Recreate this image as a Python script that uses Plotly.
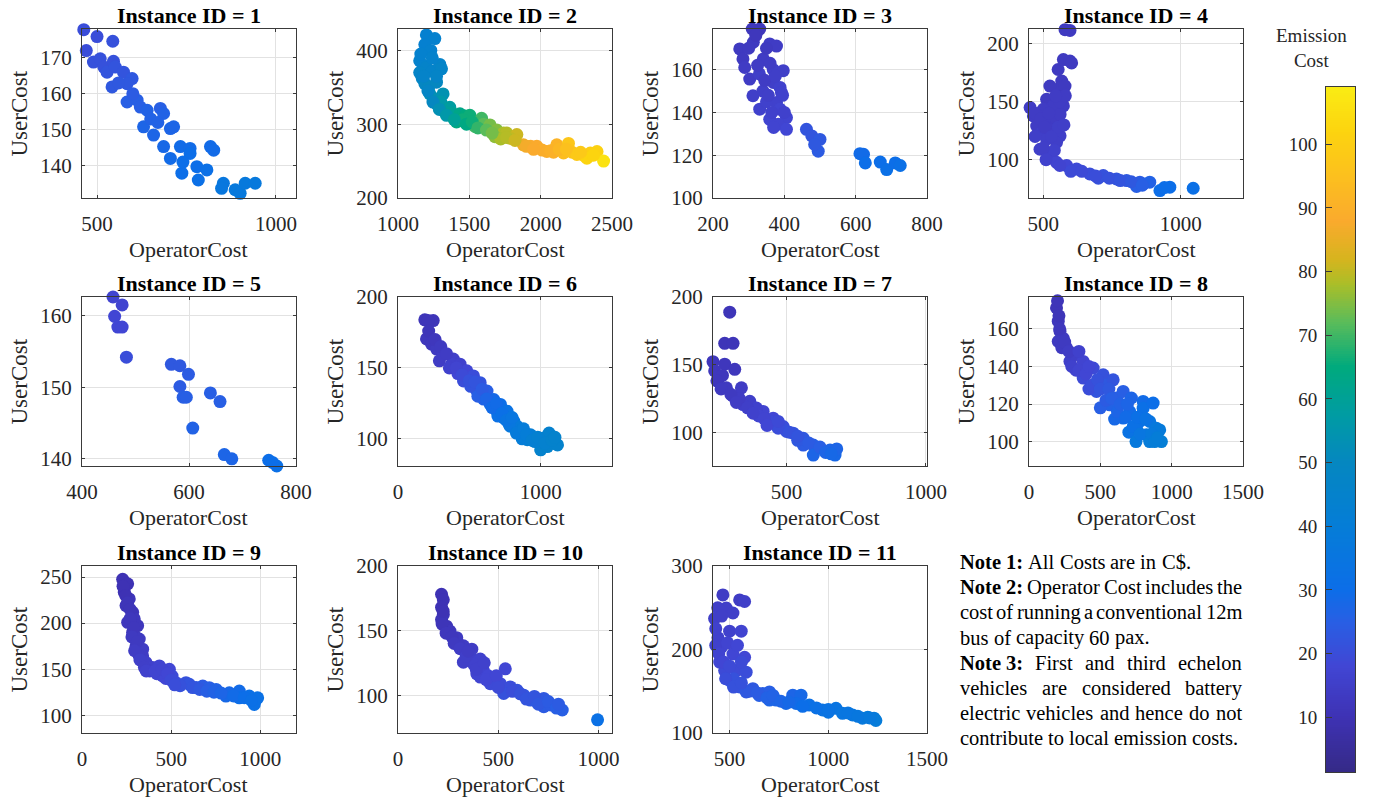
import plotly.graph_objects as go
import numpy as np

W, H = 1383, 802
FONT = "Liberation Serif, Times New Roman, serif"

# ---------------- data (OperatorCost, UserCost, Emission Cost) ----------------
op1 = [463, 500, 544, 470, 490, 509, 519, 528, 546, 551, 574, 598, 542, 584, 584, 612, 621, 640, 677, 686, 630, 658,
       705, 714, 686, 733, 760, 817, 826, 705, 737, 760, 779, 807, 783, 853, 848, 886, 900, 914, 942, 1044, 600, 650,
       560, 740, 670]
user1 = [177.8, 175.9, 174.6, 172.0, 168.8, 169.7, 167.4, 166.0, 169.0, 167.4, 166.0, 164.2, 161.9, 162.8, 157.7, 158.2,
         156.3, 155.4, 155.9, 154.5, 150.8, 148.5, 150.3, 150.8, 145.3, 145.3, 144.8, 145.3, 144.3, 142.0, 137.9, 143.4,
         139.7, 138.8, 136.0, 135.1, 133.7, 133.3, 132.3, 135.1, 135.1, 130.8, 160.0, 153.0, 163.0, 141.0, 152.0]
emis1 = [20, 20, 21, 20, 21, 21, 21, 22, 21, 22, 22, 23, 23, 23, 25, 25, 25, 26, 25, 26, 27, 27, 27, 27, 28, 29, 29,
         29, 29, 29, 30, 30, 30, 31, 31, 36, 36, 37, 37, 37, 37, 45, 24, 26, 23, 30, 26]

op2 = [1199, 1258, 1188, 1230, 1152, 1175, 1199, 1240, 1293, 1305, 1152, 1170, 1188, 1215, 1270, 1223, 1250, 1316,
       1270, 1300, 1363, 1328, 1380, 1434, 1470, 1504, 1410, 1455, 1586, 1539, 1600, 1645, 1692, 1740, 1762, 1833,
       1785, 1680, 1720, 1879, 1930, 1973, 2010, 2043, 2070, 2113, 2195, 2160, 2220, 2254, 2300, 2348, 2395, 2324, 2441,
       1160, 1180, 1210, 1245, 1290, 1340, 1395, 1480, 1520, 1560, 1620, 1660, 1760, 1820, 1900, 1950, 2090, 2130,
       2180, 2280, 2370, 1240, 1270]
user2 = [421, 416, 408, 400, 386, 380, 377, 372, 381, 375, 370, 362, 355, 350, 357, 341, 335, 341, 328, 330, 323, 317,
         315, 314, 311, 312, 303, 306, 308, 297, 300, 299, 292, 288, 288, 286, 281, 283, 280, 272, 270, 270, 265, 263,
         264, 272, 274, 261, 262, 259, 258, 261, 263, 254, 250,
         395, 365, 345, 330, 320, 312, 306, 300, 303, 295, 292, 288, 282, 278, 270, 266, 262, 266, 266, 262, 258, 390,
         365]
emis2 = [43, 44, 43, 44, 45, 45, 46, 46, 46, 47, 47, 48, 49, 50, 50, 52, 53, 54, 55, 56, 58, 59, 60, 63, 65, 66, 64,
         66, 70, 70, 72, 74, 75, 78, 79, 81, 80, 76, 78, 86, 88, 88, 89, 89, 90, 91, 97, 94, 96, 98, 99, 100, 101,
         102, 106,
         44, 46, 48, 50, 53, 56, 60, 64, 66, 69, 72, 74, 79, 81, 87, 88, 90, 92, 95, 98, 102, 45, 47]

op3 = [289, 331, 310, 275, 313, 359, 378, 284, 341, 289, 369, 397, 303, 330, 369, 388, 392, 312, 340, 378, 331, 350,
       388, 406, 359, 383, 406, 462, 477, 500, 495, 485, 612, 622, 627, 669, 687, 711, 725,
       320, 300, 350, 325, 360, 345, 375, 355, 395, 365, 400, 370]
user3 = [179.4, 179.0, 179.0, 169.7, 172.8, 172.0, 171.0, 165.0, 165.0, 161.0, 160.0, 159.5, 155.6, 158.0, 154.0,
         151.7, 149.3, 147.8, 150.0, 144.6, 141.5, 145.0, 141.5, 137.6, 136.8, 134.5, 132.1, 132.1, 129.0, 127.4,
         121.9, 125.0, 120.7, 120.4, 116.4, 116.8, 113.3, 116.4, 115.2,
         176.0, 170.0, 170.0, 162.0, 163.0, 155.0, 157.0, 148.0, 148.0, 140.0, 140.0, 133.0]
emis3 = [12, 12, 12, 13, 13, 14, 14, 13, 14, 14, 15, 15, 14, 15, 15, 16, 16, 15, 15, 16, 16, 16, 17, 17, 17, 17, 18,
         22, 22, 23, 24, 23, 29, 29, 30, 30, 31, 30, 31,
         12, 13, 13, 14, 14, 14, 15, 15, 16, 16, 16, 17]

op4 = [597, 579, 554, 573, 597, 603, 567, 561, 524, 579, 452, 464, 512, 536, 573, 476, 494, 524, 561, 548, 488, 524,
       548, 585, 621, 669, 718, 766, 803, 851, 863, 924, 960, 1045, 839, 887, 500, 518, 548, 561, 512, 470, 540, 600,
       700, 470, 490, 505, 530, 555, 575, 560, 580, 545, 520, 500, 510, 560, 640, 690, 740, 780, 820, 860, 940]
user4 = [211.4, 212.0, 177.7, 186.3, 185.0, 183.4, 167.7, 162.0, 163.4, 163.4, 144.9, 137.7, 152.0, 146.3, 146.3,
         129.0, 123.4, 129.0, 120.6, 114.9, 109.0, 103.4, 97.7, 94.9, 92.0, 87.7, 86.3, 83.4, 82.0, 80.6, 79.1, 73.4,
         76.3, 75.4, 77.0, 80.6, 143.4, 137.7, 134.9, 139.0, 117.7, 120.0, 108.0, 90.0, 84.0,
         140.0, 135.0, 128.0, 120.0, 128.0, 130.0, 150.0, 155.0, 155.0, 140.0, 110.0, 100.0, 95.0, 90.0, 86.0, 84.0,
         82.0, 81.0, 78.0, 76.0]
emis4 = [13, 13, 13, 13, 13, 13, 13, 13, 13, 13, 14, 14, 13, 14, 14, 14, 15, 14, 15, 15, 15, 16, 17, 18, 19, 20, 21,
         22, 23, 24, 25, 30, 30, 31, 25, 26, 14, 14, 14, 14, 15, 15, 16, 19, 21,
         14, 14, 14, 15, 15, 15, 14, 14, 14, 14, 15, 16, 17, 19, 20, 21, 22, 23, 25, 30]

op5 = [458, 475, 461, 467, 475, 483, 567, 583, 599, 583, 589, 595, 640, 658, 607, 666, 680, 749, 764, 756]
user5 = [162.6, 161.5, 159.9, 158.4, 158.4, 154.2, 153.2, 153.0, 151.8, 150.1, 148.6, 148.6, 149.2, 148.0, 144.3,
         140.6, 140.0, 139.8, 139.0, 139.5]
emis5 = [17, 17, 18, 18, 18, 20, 23, 23, 24, 24, 25, 25, 25, 25, 26, 27, 27, 30, 31, 30]

op6 = [188, 247, 210, 200, 235, 271, 318, 388, 376, 435, 482, 459, 529, 576, 553, 624, 671, 647, 718, 694, 765, 741,
       812, 788, 835, 859, 929, 906, 1023, 1000, 1047, 1059, 1118, 290, 420, 510, 600, 700, 780, 870, 960,
       215, 260, 300, 340, 360, 410, 450, 500, 540, 560, 590, 620, 660, 690, 730, 760, 800, 830, 880, 900, 940, 980,
       1030, 1080, 1100]
user6 = [183.9, 183.4, 183.5, 170.4, 166.8, 163.3, 159.7, 156.2, 152.6, 152.6, 147.9, 140.8, 144.3, 139.6, 133.7,
         133.7, 127.7, 124.2, 124.2, 119.4, 119.4, 114.7, 112.3, 108.8, 108.8, 105.2, 102.8, 99.3, 100.5, 92.2, 94.5,
         104.0, 95.7, 155.0, 146.0, 137.0, 128.0, 116.0, 110.0, 100.0, 98.0,
         176.0, 170.0, 165.0, 160.0, 150.0, 150.0, 145.0, 141.0, 140.0, 130.0, 135.0, 128.0, 122.0, 125.0, 118.0,
         113.0, 115.0, 104.0, 107.0, 103.0, 99.0, 101.0, 97.0, 99.0, 101.0]
emis6 = [11, 11, 11, 12, 12, 13, 14, 15, 16, 16, 18, 20, 20, 22, 24, 25, 28, 29, 30, 32, 33, 34, 35, 37, 38, 39, 41,
         42, 43, 45, 45, 44, 45, 14, 18, 22, 26, 32, 36, 40, 43,
         11, 12, 13, 14, 16, 17, 19, 21, 22, 25, 24, 27, 29, 29, 31, 34, 35, 38, 39, 40, 42, 43, 44, 45, 45]

op7 = [296, 278, 308, 236, 242, 278, 314, 254, 284, 338, 308, 368, 344, 416, 392, 452, 440, 488, 500, 524, 560, 560,
       596, 608, 596, 656, 674, 680, 270, 330, 400, 470, 540,
       250, 265, 300, 320, 360, 380, 420, 430, 470, 510, 540, 580, 620, 640, 660]
user7 = [188.8, 165.7, 165.7, 152.2, 145.3, 150.3, 146.5, 139.0, 132.8, 132.8, 126.6, 122.9, 120.4, 115.4, 117.9,
         110.4, 108.0, 104.2, 100.5, 99.3, 95.5, 90.5, 90.5, 88.1, 83.1, 86.8, 83.1, 87.6, 142.0, 125.0, 112.0, 103.0,
         94.0,
         138.0, 132.0, 128.0, 122.0, 118.0, 114.0, 110.0, 105.0, 108.0, 100.0, 97.0, 92.0, 89.0, 85.0, 84.0]
emis7 = [11, 11, 11, 12, 12, 12, 12, 13, 13, 14, 14, 15, 15, 17, 16, 18, 19, 20, 21, 22, 23, 24, 25, 25, 27, 27, 28,
         27, 12, 14, 17, 20, 23,
         12, 13, 13, 14, 15, 16, 17, 18, 19, 21, 22, 24, 25, 27, 28]

op8 = [189, 193, 205, 217, 205, 263, 287, 322, 380, 380, 450, 473, 520, 543, 566, 590, 613, 660, 660, 706, 718, 753,
       776, 800, 800, 823, 846, 846, 870, 893, 916, 928, 240, 330, 420, 500, 600, 700, 750,
       200, 210, 215, 230, 250, 280, 300, 350, 350, 400, 420, 440, 480, 500, 540, 560, 580, 620, 640, 680, 690, 730,
       760, 780, 820, 860, 880, 900]
user8 = [178.4, 171.2, 164.1, 158.8, 153.4, 149.9, 142.7, 146.3, 142.7, 133.8, 139.2, 126.7, 135.6, 130.3, 119.6,
         132.9, 123.2, 126.7, 112.5, 116.0, 123.2, 107.1, 110.7, 121.4, 117.8, 103.6, 110.7, 100.0, 120.5, 107.1, 106.2,
         100.0, 155.0, 138.0, 128.0, 118.0, 112.0, 105.0, 100.0,
         175.0, 167.0, 160.0, 150.0, 153.0, 148.0, 140.0, 138.0, 148.0, 136.0, 140.0, 130.0, 133.0, 128.0, 122.0,
         128.0, 123.0, 116.0, 120.0, 113.0, 120.0, 108.0, 113.0, 104.0, 112.0, 104.0, 100.0, 102.0]
emis8 = [11, 11, 12, 12, 13, 14, 15, 15, 17, 19, 19, 22, 21, 23, 26, 22, 25, 25, 29, 29, 27, 33, 32, 29, 31, 36, 35,
         39, 30, 37, 38, 41, 13, 17, 20, 25, 28, 33, 37,
         11, 11, 12, 13, 13, 14, 16, 17, 16, 18, 18, 20, 21, 22, 24, 23, 25, 27, 26, 29, 27, 32, 31, 35, 33, 37, 40, 40]

op9 = [228, 256, 237, 265, 247, 284, 293, 256, 312, 284, 321, 303, 340, 340, 359, 396, 434, 490, 505, 452, 527, 583,
       602, 677, 714, 752, 807, 826, 882, 882, 938, 976, 966, 985, 300, 320, 380, 420, 470, 550, 640,
       230, 245, 255, 270, 270, 290, 280, 310, 295, 325, 350, 360, 410, 450, 480, 500, 520, 620, 660, 700, 740, 780,
       850, 910, 950]
user9 = [247.5, 242.7, 233.6, 226.3, 219.0, 211.8, 204.5, 200.9, 197.2, 190.0, 182.7, 175.4, 171.7, 164.4, 157.2,
         151.7, 153.5, 149.9, 142.6, 142.6, 135.3, 135.3, 133.5, 131.7, 129.9, 128.0, 120.8, 124.4, 126.2, 118.9,
         120.8, 117.1, 111.7, 118.9, 185.0, 165.0, 148.0, 145.0, 140.0, 132.0, 130.0,
         240.0, 230.0, 222.0, 215.0, 205.0, 195.0, 185.0, 180.0, 170.0, 160.0, 152.0, 148.0, 148.0, 150.0, 145.0,
         138.0, 133.0, 130.0, 128.0, 126.0, 125.0, 124.0, 121.0, 119.0, 116.0]
emis9 = [10, 10, 10, 11, 11, 11, 12, 12, 12, 12, 13, 13, 14, 14, 15, 16, 17, 18, 19, 18, 20, 21, 22, 24, 25, 26, 28,
         28, 29, 30, 31, 32, 32, 32, 13, 14, 16, 17, 18, 21, 23,
         10, 10, 11, 11, 12, 12, 13, 13, 14, 15, 15, 16, 17, 17, 18, 19, 20, 22, 23, 25, 26, 27, 29, 30, 31]

op10 = [217, 226, 217, 226, 217, 242, 259, 293, 326, 368, 360, 410, 376, 326, 426, 410, 393, 477, 535, 510, 460, 560,
        594, 527, 627, 660, 694, 727, 727, 761, 819, 995, 300, 450,
        225, 220, 240, 270, 280, 310, 340, 350, 390, 430, 440, 490, 500, 570, 610, 640, 680, 700, 750, 790, 800]
user10 = [178.1, 173.8, 168.0, 162.4, 158.5, 153.4, 149.6, 144.5, 138.2, 135.6, 130.5, 128.0, 124.2, 125.5, 119.1,
          114.0, 116.5, 112.7, 120.4, 108.9, 108.9, 106.4, 103.8, 101.3, 100.0, 96.2, 94.9, 97.5, 91.1, 92.4, 88.5,
          80.9, 140.0, 115.0,
          165.0, 155.0, 148.0, 145.0, 140.0, 136.0, 130.0, 134.0, 120.0, 125.0, 112.0, 115.0, 106.0, 103.0, 101.0,
          97.0, 99.0, 93.0, 95.0, 90.0, 93.0]
emis10 = [10, 10, 10, 11, 11, 11, 12, 13, 14, 14, 15, 16, 16, 15, 17, 17, 17, 18, 18, 19, 19, 20, 21, 21, 22, 23, 24,
          23, 24, 24, 25, 32, 13, 18,
          10, 11, 12, 12, 13, 14, 15, 14, 16, 16, 18, 18, 19, 20, 21, 22, 22, 23, 24, 25, 24]

op11 = [466, 551, 576, 424, 483, 517, 441, 500, 559, 458, 517, 576, 475, 534, 584, 500, 551, 584, 618, 668, 702, 736,
        702, 786, 820, 862, 837, 904, 971, 1039, 1072, 1123, 1173, 1232, 1241, 450, 430, 520, 650, 1000, 1200,
        440, 460, 430, 445, 470, 490, 540, 560, 480, 520, 600, 640, 690, 720, 760, 800, 870, 940, 1000, 1100, 1150,
        1210, 500, 560]
user11 = [265.4, 259.4, 257.5, 237.0, 249.6, 243.7, 214.2, 222.0, 222.0, 202.4, 194.5, 190.6, 174.8, 174.8, 172.8,
          163.0, 155.1, 149.2, 153.1, 147.2, 149.2, 139.4, 139.4, 135.4, 145.3, 145.3, 135.4, 133.5, 127.6, 129.5,
          123.6, 121.7, 117.7, 117.7, 115.0, 185.0, 225.0, 165.0, 145.0, 125.0, 119.0,
          250.0, 240.0, 205.0, 195.0, 185.0, 208.0, 205.0, 185.0, 165.0, 155.0, 150.0, 148.0, 142.0, 145.0, 138.0,
          137.0, 132.0, 130.0, 128.0, 124.0, 120.0, 118.0, 180.0, 160.0]
emis11 = [14, 14, 15, 15, 15, 15, 16, 16, 17, 17, 18, 18, 19, 19, 20, 21, 22, 23, 23, 25, 25, 27, 27, 28, 27, 28, 29,
          31, 33, 34, 35, 36, 37, 38, 39, 18, 16, 21, 25, 34, 38,
          15, 15, 16, 17, 18, 17, 18, 19, 20, 21, 23, 24, 26, 26, 27, 28, 30, 32, 33, 35, 36, 37, 19, 21]

instance_ids = [1, 2, 3, 4, 5, 6, 7, 8, 9, 10, 11]
op_costs = [op1, op2, op3, op4, op5, op6, op7, op8, op9, op10, op11]
user_costs = [user1, user2, user3, user4, user5, user6, user7, user8, user9, user10, user11]
emission_costs = [emis1, emis2, emis3, emis4, emis5, emis6, emis7, emis8, emis9, emis10, emis11]

x_ranges = [[458, 1056], [1000, 2500], [200, 800], [448, 1226], [400, 800], [0, 1500], [236, 1004], [0, 1500],
            [0, 1200], [0, 1067], [416, 1500]]
y_ranges = [[131, 178], [200, 429], [100, 179], [67, 212.6], [139, 162.6], [80.8, 200], [75, 200], [87, 177],
            [80.7, 262], [70.7, 200], [100, 300]]
x_ticks = [[500, 1000], [1000, 1500, 2000, 2500], [200, 400, 600, 800], [500, 1000], [400, 600, 800], [0, 1000],
           [500, 1000], [0, 500, 1000, 1500], [0, 500, 1000], [0, 500, 1000], [500, 1000, 1500]]
y_ticks = [[140, 150, 160, 170], [200, 300, 400], [100, 120, 140, 160], [100, 150, 200], [140, 150, 160],
           [100, 150, 200], [100, 150, 200], [100, 120, 140, 160], [100, 150, 200, 250], [100, 150, 200],
           [100, 200, 300]]

cb_ticks = [10, 20, 30, 40, 50, 60, 70, 80, 90, 100]
CMIN, CMAX = 1.4, 109.0

# note paragraphs: (words of each line, justified?)
note_lines = [
    (["<b>Note 1:</b>", "All", "Costs", "are", "in", "C$."], False),
    (["<b>Note 2:</b>", "Operator", "Cost", "includes", "the"], True),
    (["cost", "of", "running", "a", "conventional", "12m"], True),
    (["bus", "of", "capacity", "60", "pax."], False),
    (["<b>Note 3:</b>", "First", "and", "third", "echelon"], True),
    (["vehicles", "are", "considered", "battery"], True),
    (["electric", "vehicles", "and", "hence", "do", "not"], True),
    (["contribute", "to", "local", "emission", "costs."], False),
]

# parula-like colour scale (value -> colour)
scale_vals = [1.4, 10, 18, 25, 30, 40, 50, 57, 65, 72, 78, 82, 88, 95, 102, 109]
scale_cols = ["rgb(53,42,135)", "rgb(62,50,180)", "rgb(65,70,212)", "rgb(40,95,228)", "rgb(12,110,232)",
              "rgb(5,125,215)", "rgb(5,135,192)", "rgb(0,155,165)", "rgb(0,170,125)", "rgb(90,188,90)",
              "rgb(170,190,40)", "rgb(215,180,30)", "rgb(250,170,45)", "rgb(252,192,30)", "rgb(252,212,15)",
              "rgb(250,236,20)"]
parula = [[(v - CMIN) / (CMAX - CMIN), c] for v, c in zip(scale_vals, scale_cols)]

# ---------------- layout geometry (pixels) ----------------
cols_px = [(82, 296), (398, 612), (713, 927), (1029, 1243)]
rows_px = [(29, 198), (297, 466), (566, 733)]
cb_px_x = (1326, 1355)
cb_px_y = (87, 772)

# Times / Liberation Serif advance widths (per 1000 em) used to justify note lines
REG = {" ": 250, "$": 500, ".": 250, ":": 278, "A": 722, "C": 667, "F": 556, "N": 722, "O": 722, "a": 444,
       "b": 500, "c": 444, "d": 500, "e": 444, "f": 333, "g": 500, "h": 500, "i": 278, "l": 278, "m": 778,
       "n": 500, "o": 500, "p": 500, "r": 333, "s": 389, "t": 278, "u": 500, "v": 500, "w": 722, "x": 500,
       "y": 500}
BOLD = {" ": 250, ":": 333, "N": 722, "o": 500, "t": 333, "e": 444}


def text_width(word, size):
    bold = word.startswith("<b>")
    s = word.replace("<b>", "").replace("</b>", "")
    tbl = BOLD if bold else REG
    return sum(tbl.get(ch, 500) for ch in s) * size / 1000.0


def px_x(v):
    return v / W


def px_y(v):
    return (H - v) / H


fig = go.Figure()
layout = dict(
    width=W, height=H, margin=dict(l=0, r=0, t=0, b=0, autoexpand=False),
    paper_bgcolor="white", plot_bgcolor="white", showlegend=False, template="none",
    font=dict(family=FONT, color="#262626"),
)
annotations = []

for i, iid in enumerate(instance_ids):
    r, c = divmod(i, 4)
    x0, x1 = cols_px[c]
    y0, y1 = rows_px[r]
    n = i + 1
    xa = "x" if n == 1 else f"x{n}"
    ya = "y" if n == 1 else f"y{n}"
    fig.add_trace(go.Scatter(
        x=op_costs[i], y=user_costs[i], mode="markers", xaxis=xa, yaxis=ya, cliponaxis=False,
        marker=dict(size=13, color=emission_costs[i], colorscale=parula, cmin=CMIN, cmax=CMAX,
                    line=dict(width=0), showscale=False, opacity=1),
        hovertemplate="OperatorCost=%{x}<br>UserCost=%{y}<extra></extra>",
    ))
    axis_common = dict(showgrid=True, gridcolor="#e2e2e2", gridwidth=1, zeroline=False, automargin=False,
                       showline=True, linecolor="#3a3a3a", linewidth=1, mirror="ticks",
                       ticks="inside", ticklen=3, tickcolor="#3a3a3a",
                       tickfont=dict(family=FONT, size=21, color="#262626"))
    layout["xaxis" if n == 1 else f"xaxis{n}"] = dict(
        axis_common, domain=[px_x(x0), px_x(x1)], range=x_ranges[i], tickvals=x_ticks[i],
        anchor=ya, ticklabelstandoff=7)
    layout["yaxis" if n == 1 else f"yaxis{n}"] = dict(
        axis_common, domain=[px_y(y1), px_y(y0)], range=y_ranges[i], tickvals=y_ticks[i],
        anchor=xa, ticklabelstandoff=5)
    annotations.append(dict(text=f"<b>Instance ID = {iid}</b>", x=px_x((x0 + x1) / 2), y=px_y(y0),
                            xref="paper", yref="paper", xanchor="center", yanchor="bottom", yshift=-1,
                            showarrow=False, font=dict(family=FONT, size=22, color="black")))
    annotations.append(dict(text="OperatorCost", x=px_x((x0 + x1) / 2), y=px_y(y1 + 51),
                            xref="paper", yref="paper", xanchor="center", yanchor="middle",
                            showarrow=False, font=dict(family=FONT, size=22, color="#262626")))
    annotations.append(dict(text="UserCost", x=px_x(x0 - 63), y=px_y((y0 + y1) / 2), textangle=-90,
                            xref="paper", yref="paper", xanchor="center", yanchor="middle",
                            showarrow=False, font=dict(family=FONT, size=23, color="#262626")))

# colour bar drawn as a heat-map strip on its own axes (labels on the left, like the original)
cb_levels = np.linspace(CMIN, CMAX, 300)
fig.add_trace(go.Heatmap(z=[[v] for v in cb_levels], y=cb_levels, x=[0], colorscale=parula,
                         zmin=CMIN, zmax=CMAX, showscale=False, xaxis="x12", yaxis="y12",
                         hoverinfo="skip"))
layout["xaxis12"] = dict(domain=[px_x(cb_px_x[0]), px_x(cb_px_x[1])], range=[-0.5, 0.5], anchor="y12",
                         showticklabels=False, showgrid=False, zeroline=False, showline=True, mirror=True,
                         linecolor="#3a3a3a", linewidth=1, ticks="", automargin=False)
layout["yaxis12"] = dict(domain=[px_y(cb_px_y[1]), px_y(cb_px_y[0])], range=[CMIN, CMAX], anchor="x12",
                         side="left", tickvals=cb_ticks, ticks="inside", ticklen=6, tickcolor="#3a3a3a",
                         showgrid=False, zeroline=False, showline=True, mirror=True, linecolor="#3a3a3a",
                         linewidth=1, ticklabelstandoff=4, automargin=False,
                         tickfont=dict(family=FONT, size=19, color="#262626"))
annotations.append(dict(text="Emission<br>Cost", x=px_x(1311), y=px_y(48), xref="paper", yref="paper",
                        xanchor="center", yanchor="middle", showarrow=False,
                        font=dict(family=FONT, size=19, color="#262626")))

# notes (justified like the original paragraph)
NOTE_SIZE = 20.5
note_left, note_right = 958, 1240
note_y0, note_dy = 562, 25.2
for k, (words, justify) in enumerate(note_lines):
    widths = [text_width(w, NOTE_SIZE) for w in words]
    if justify and len(words) > 1:
        gap = (note_right - note_left - sum(widths)) / (len(words) - 1)
    else:
        gap = text_width(" ", NOTE_SIZE)
    xpos = note_left
    for w, wd in zip(words, widths):
        annotations.append(dict(text=w, x=px_x(xpos), y=px_y(note_y0 + k * note_dy), xref="paper",
                                yref="paper", xanchor="left", yanchor="middle", showarrow=False,
                                font=dict(family=FONT, size=NOTE_SIZE, color="black")))
        xpos += wd + gap

layout["annotations"] = annotations
fig.update_layout(**layout)
fig.write_html("out.html")
